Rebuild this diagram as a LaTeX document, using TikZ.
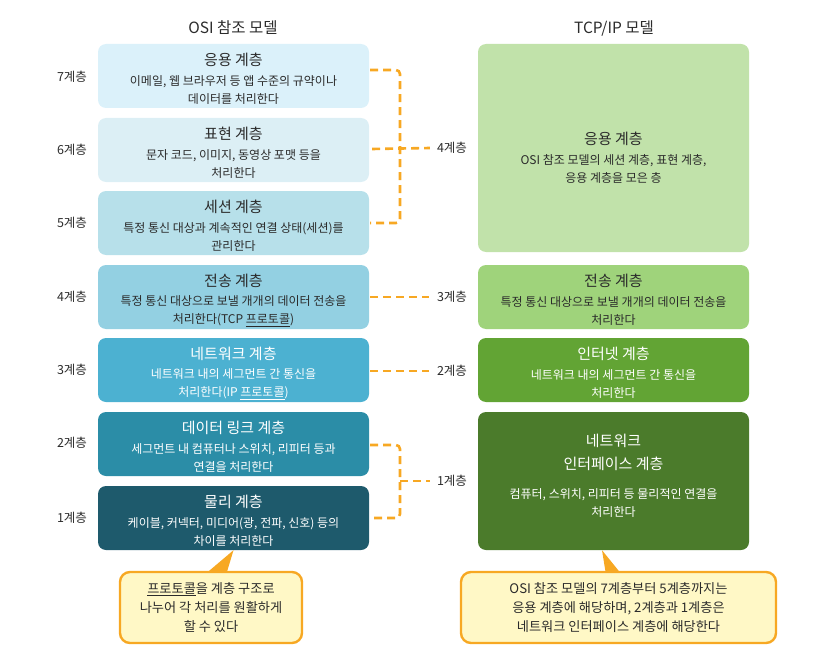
\documentclass[tikz,border=0pt]{standalone}
\usepackage{fontspec}
\setmainfont{Noto Sans CJK KR}
\definecolor{cA}{HTML}{DBF1FA}
\definecolor{cB}{HTML}{DCEFF5}
\definecolor{cC}{HTML}{B7E0EA}
\definecolor{cD}{HTML}{93D0E2}
\definecolor{cE}{HTML}{4CB1D1}
\definecolor{cF}{HTML}{2B8DA7}
\definecolor{cG}{HTML}{1E5A6C}
\definecolor{gA}{HTML}{C1E2AA}
\definecolor{gB}{HTML}{9FD37B}
\definecolor{gC}{HTML}{62A434}
\definecolor{gD}{HTML}{4B7B2B}
\definecolor{orn}{HTML}{F7A823}
\definecolor{yel}{HTML}{FFF8C6}
\definecolor{txt}{HTML}{2B2B2B}
\tikzset{
  layerbox/.style={rectangle, rounded corners=8pt, minimum width=271pt, minimum height=64pt, inner sep=0pt, draw=none},
  ttl/.style={font=\fontsize{15}{23}\selectfont, inner sep=0pt, align=center},
  dsc/.style={font=\fontsize{12}{18}\selectfont, inner sep=0pt, align=center},
  lbl/.style={font=\fontsize{12.5}{14}\selectfont, text=txt, inner sep=0pt},
  head/.style={font=\fontsize{15.5}{17}\selectfont, text=txt, inner sep=0pt},
  conn/.style={draw=orn, line width=2.6pt, dash pattern=on 8pt off 5pt},
  callout/.style={rectangle, rounded corners=10pt, fill=yel, draw=orn, line width=2.4pt, inner sep=0pt, align=center, text=txt, font=\fontsize{13.2}{19}\selectfont},
}
\begin{document}
\begin{tikzpicture}[x=1pt, y=-1pt]
\useasboundingbox (0,0) rectangle (814,650);

% headings
\node[head] (hosi) at (233,28) {OSI 참조 모델};
\node[head] (htcp) at (614,28) {TCP/IP 모델};

% OSI boxes
\node[layerbox, fill=cA] (b7) at (233.5,76) {};
\node[layerbox, fill=cB] (b6) at (233.5,150) {};
\node[layerbox, fill=cC] (b5) at (233.5,223) {};
\node[layerbox, fill=cD] (b4) at (233.5,297) {};
\node[layerbox, fill=cE] (b3) at (233.5,370) {};
\node[layerbox, fill=cF] (b2) at (233.5,444) {};
\node[layerbox, fill=cG] (b1) at (233.5,518) {};

\node[ttl, text=txt] (t7) at (233.5,60) {응용 계층};
\node[dsc, text=txt] (d7) at (233.5,90) {이메일, 웹 브라우저 등 앱 수준의 규약이나\\데이터를 처리한다};
\node[ttl, text=txt] (t6) at (233.5,134) {표현 계층};
\node[dsc, text=txt] (d6) at (233.5,164) {문자 코드, 이미지, 동영상 포맷 등을\\처리한다};
\node[ttl, text=txt] (t5) at (233.5,207) {세션 계층};
\node[dsc, text=txt] (d5) at (233.5,237) {특정 통신 대상과 계속적인 연결 상태(세션)를\\관리한다};
\node[ttl, text=txt] (t4) at (233.5,281) {전송 계층};
\node[dsc, text=txt] (d4) at (233.5,311) {특정 통신 대상으로 보낼 개개의 데이터 전송을\\처리한다(TCP \underline{프로토콜})};
\node[ttl, text=white] (t3) at (233.5,354) {네트워크 계층};
\node[dsc, text=white] (d3) at (233.5,384) {네트워크 내의 세그먼트 간 통신을\\처리한다(IP \underline{프로토콜})};
\node[ttl, text=white] (t2) at (233.5,428) {데이터 링크 계층};
\node[dsc, text=white] (d2) at (233.5,458) {세그먼트 내 컴퓨터나 스위치, 리피터 등과\\연결을 처리한다};
\node[ttl, text=white] (t1) at (233.5,502) {물리 계층};
\node[dsc, text=white] (d1) at (233.5,532) {케이블, 커넥터, 미디어(광, 전파, 신호) 등의\\차이를 처리한다};

% left layer labels
\node[lbl] (l7) at (72,77) {7계층};
\node[lbl] (l6) at (72,150) {6계층};
\node[lbl] (l5) at (72,223) {5계층};
\node[lbl] (l4) at (72,297) {4계층};
\node[lbl] (l3) at (72,370) {3계층};
\node[lbl] (l2) at (72,443) {2계층};
\node[lbl] (l1) at (72,518) {1계층};

% TCP/IP boxes
\node[layerbox, fill=gA, minimum height=208pt] (g4) at (613.5,148) {};
\node[layerbox, fill=gB] (g3) at (613.5,297) {};
\node[layerbox, fill=gC] (g2) at (613.5,370) {};
\node[layerbox, fill=gD, minimum height=138pt] (g1) at (613.5,481) {};

\node[ttl, text=txt] (tg4) at (613.5,139) {응용 계층};
\node[dsc, text=txt] (dg4) at (613.5,169) {OSI 참조 모델의 세션 계층, 표현 계층,\\응용 계층을 모은 층};
\node[ttl, text=txt] (tg3) at (613.5,281) {전송 계층};
\node[dsc, text=txt] (dg3) at (613.5,311) {특정 통신 대상으로 보낼 개개의 데이터 전송을\\처리한다};
\node[ttl, text=white] (tg2) at (613.5,354) {인터넷 계층};
\node[dsc, text=white] (dg2) at (613.5,384) {네트워크 내의 세그먼트 간 통신을\\처리한다};
\node[ttl, text=white] (tg1) at (613.5,452.5) {네트워크\\인터페이스 계층};
\node[dsc, text=white] (dg1) at (613.5,503.5) {컴퓨터, 스위치, 리피터 등 물리적인 연결을\\처리한다};

% right-hand layer labels
\node[lbl] (r4) at (452,148) {4계층};
\node[lbl] (r3) at (452,297) {3계층};
\node[lbl] (r2) at (452,371) {2계층};
\node[lbl] (r1) at (452,481) {1계층};

% connectors
\coordinate (v4) at (400,149);
\coordinate (v1) at (400,481);
\draw[conn, rounded corners=4pt] ([xshift=1pt,yshift=6pt]b7.east) -| (v4) |- ([xshift=1pt]b5.east);
\draw[conn] ([xshift=3pt,yshift=1pt]b6.east) -- ([xshift=-7pt]r4.west);
\draw[conn] ([xshift=1pt]b4.east) -- ([xshift=-8pt]r3.west);
\draw[conn] ([xshift=1pt,yshift=-1pt]b3.east) -- ([xshift=-8pt]r2.west);
\draw[conn, rounded corners=4pt] ([xshift=1pt,yshift=-1pt]b2.east) -| (v1) |- ([xshift=1pt]b1.east);
\draw[conn] (v1) -- ([xshift=-7pt]r1.west);

% callouts
\node[callout, minimum width=182pt, minimum height=71pt] (cl) at (211,607.5) {\underline{프로토콜}을 계층 구조로\\나누어 각 처리를 원활하게\\할 수 있다};
\node[callout, minimum width=315pt, minimum height=71pt] (cr) at (618.5,607.5) {OSI 참조 모델의 7계층부터 5계층까지는\\응용 계층에 해당하며, 2계층과 1계층은\\네트워크 인터페이스 계층에 해당한다};
\fill[orn] ([xshift=-3pt,yshift=-1pt]cl.north) -- (b1.south) -- ([xshift=16pt,yshift=-1pt]cl.north) -- cycle;
\fill[orn] ([xshift=-13pt,yshift=-1pt]cr.north) -- ([xshift=-11.5pt]g1.south) -- ([xshift=1pt,yshift=-1pt]cr.north) -- cycle;
\end{tikzpicture}
\end{document}
